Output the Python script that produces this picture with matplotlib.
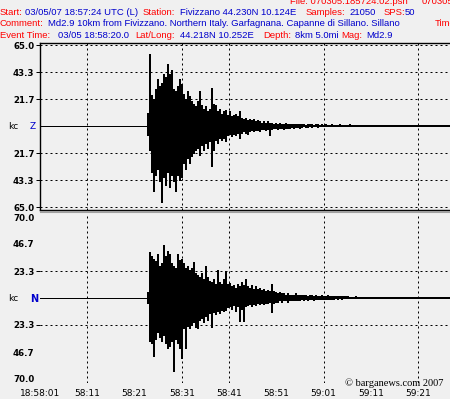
import numpy as np
import matplotlib
matplotlib.use('Agg')
import matplotlib.pyplot as plt
from matplotlib.lines import Line2D

# --- data (amplitude in kc, columns every ~0.42 s) ---
onset = 22.86        # seconds after 18:58:01 when the shaking starts
col_step = 0.423     # seconds between columns

z_hi = [11, 58, 25, 22, 30, 38, 32, 35, 42, 40, 50, 42, 45, 30, 28, 32, 38, 34, 26, 22,
        28, 24, 20, 18, 16, 20, 28, 17, 14, 16, 12, 14, 31, 18, 17, 12, 14, 10, 12, 13,
        9, 12, 8, 9, 10, 8, 12, 7, 6, 7, 5, 6, 5, 6, 4, 5, 4, 3, 4, 3,
        4, 3, 3, 2, 3, 2, 3, 2, 2, 3, 2, 2,
        2, 1.5, 2, 1.5, 1.5, 2, 1.5, 1, 1.5, 2, 1.5, 1, 1.5, 1.5, 1, 1.5, 1, 1.5, 1, 1,
        1.5, 1, 1, 1, 1.5, 1, 1, 1, 1, 1.5, 1, 1, 1, 0.8, 1, 1, 0.8, 1, 1, 0.8,
        1, 0.8, 0.8, 1, 0.8, 0.8, 1, 0.8, 0.8, 0.8, 1, 0.8, 0.8, 0.8, 1, 0.8, 0.8, 0.8, 0.8, 1,
        0.8, 0.8, 0.8, 0.8, 0.8, 1, 0.8, 0.8, 0.8, 0.8, 0.8, 0.8, 0.8, 0.8, 0.8, 0.8, 0.8, 0.8, 0.8, 0.8]
z_lo = [-8, -20, -38, -53, -40, -35, -45, -62, -42, -48, -38, -50, -40, -45, -53, -40, -44, -42, -30, -35,
        -26, -30, -25, -22, -20, -18, -24, -16, -20, -14, -18, -13, -33, -20, -12, -14, -10, -12, -10, -13,
        -8, -7, -9, -7, -8, -6, -10, -6, -5, -6, -7, -5, -4, -5, -4, -4, -5, -3, -3, -4,
        -3, -8, -3, -2, -2, -3, -2, -2, -3, -2, -2, -2,
        -1.5, -2, -1.5, -1.5, -2, -1.5, -1, -1.5, -1.5, -1, -1.5, -1, -1, -1.5, -1, -1, -1, -1, -1, -1,
        -0.8, -1, -0.8, -0.8, -1, -0.8, -0.8, -0.6, -0.8, -0.6, -0.6, -0.8, -0.6, -0.6, -0.6, -0.6, -0.5, -0.6, -0.5, -0.5,
        -0.5, -0.5, -0.5, -0.6, -0.5, -0.5, -0.5, -0.4, -0.5, -0.5, -0.4, -0.5, -0.4, -0.4, -0.5, -0.4, -0.4, -0.4, -0.4, -0.4,
        -0.4, -0.4, -0.4, -0.4, -0.4, -0.4, -0.4, -0.4, -0.4, -0.4, -0.4, -0.4, -0.4, -0.4, -0.4, -0.4, -0.4, -0.4, -0.4, -0.4]

n_hi = [5, 40, 36, 34, 32, 38, 28, 30, 46, 36, 41, 38, 30, 28, 26, 38, 33, 34, 30, 26,
        28, 24, 26, 31, 22, 20, 18, 22, 16, 28, 18, 15, 14, 16, 12, 24, 14, 12, 16, 23,
        12, 13, 10, 11, 9, 12, 10, 14, 11, 16, 10, 9, 11, 8, 10, 8, 9, 7, 8, 6,
        7, 6, 12, 6, 5, 4, 5, 4, 4, 3, 4, 3,
        3, 3, 4, 3, 2.5, 3, 2.5, 3, 2, 2.5, 3, 2, 2.5, 2, 2, 2.5, 2, 2, 3, 2,
        2, 1.5, 2, 1.5, 2, 1.5, 1.5, 2, 1.5, 1, 1, 1, 1.5, 1, 1, 1, 1, 1, 1, 1,
        0.8, 0.8, 1, 0.8, 0.8, 0.8, 1, 0.8, 0.8, 0.8, 0.8, 0.8, 1, 0.8, 0.8, 0.8, 0.8, 0.8, 0.8, 0.8,
        0.8, 0.8, 0.8, 0.8, 0.8, 0.8, 0.8, 0.8, 0.8, 0.8, 0.8, 0.8, 0.8, 0.8, 0.8, 0.8, 0.8, 0.8, 0.8, 0.8]
n_lo = [-5, -38, -40, -51, -36, -30, -35, -38, -33, -40, -44, -42, -38, -64, -36, -40, -44, -53, -27, -44,
        -25, -27, -24, -22, -26, -27, -20, -18, -22, -16, -20, -14, -26, -13, -15, -12, -14, -11, -12, -11,
        -9, -8, -10, -7, -12, -8, -21, -10, -21, -8, -7, -6, -8, -6, -7, -5, -6, -5, -6, -5,
        -5, -4, -13, -5, -4, -4, -3, -4, -3, -3, -4, -3,
        -3, -2.5, -3, -2.5, -3, -2, -2.5, -2, -2.5, -2, -2, -2.5, -2, -1.5, -2, -1.5, -2, -1.5, -1.5, -2,
        -1.5, -1.5, -1, -1.5, -1, -1.5, -1, -1, -1, -1, -0.8, -0.8, -0.8, -0.8, -0.8, -0.8, -0.8, -0.8, -0.8, -0.8,
        -0.5, -0.5, -0.5, -0.5, -0.5, -0.5, -0.5, -0.5, -0.5, -0.5, -0.5, -0.5, -0.5, -0.5, -0.5, -0.5, -0.5, -0.5, -0.5, -0.5,
        -0.5, -0.5, -0.5, -0.5, -0.5, -0.5, -0.5, -0.5, -0.5, -0.5, -0.5, -0.5, -0.5, -0.5, -0.5, -0.5, -0.5, -0.5, -0.5, -0.5]

x_ticks = [0, 10, 20, 30, 40, 50, 60, 70, 80]
x_labels = ['18:58:01', '58:11', '58:21', '58:31', '58:41', '58:51', '59:01', '59:11', '59:21']
x_grid = [10, 30, 40, 60, 80]
z_ticks = [65, 43.3, 21.7, -21.7, -43.3, -65]
z_labels = ['65.0', '43.3', '21.7', '21.7', '43.3', '65.0']
n_ticks = [23.3, -23.3]
n_minor = [70, 46.7, -46.7, -70]
n_labels = ['23.3', '23.3']
n_minor_labels = ['70.0', '46.7', '46.7', '70.0']

RED = '#ff0000'
BLUE = '#0000cc'
BG = '#f0f0f0'
W, H = 450, 399


def fx(px):
    return px / W


def fy(py):
    return 1 - py / H


def draw_trace(ax, hi, lo):
    t = onset + col_step * np.arange(len(hi))
    ax.plot([0, onset], [0, 0], color='black', lw=0.72, zorder=3)
    ax.vlines(t, lo, hi, color='black', lw=1.44, antialiased=False, zorder=3)


fig = plt.figure(figsize=(4.5, 3.99), dpi=100, facecolor=BG)

dot = (0, (2, 3))
px = 0.72  # one pixel in points

ax_z = fig.add_axes([fx(40), fy(209.5), fx(450) - fx(40), fy(43) - fy(209.5)])
ax_n = fig.add_axes([fx(40), fy(383), fx(450) - fx(40), fy(213) - fy(383)])

for ax in (ax_z, ax_n):
    ax.set_facecolor('none')
    ax.set_xlim(0, 86.77)
    for t in x_grid:
        ax.axvline(t, color='black', lw=px, ls=dot, zorder=1)

# top panel (Z)
ax_z.set_ylim(-67, 67)
for v in z_ticks:
    ax_z.axhline(v, color='black', lw=px, ls=dot, zorder=1)
ax_z.spines['right'].set_visible(False)
for s in ('top', 'left', 'bottom'):
    ax_z.spines[s].set_linewidth(1.0)
ax_z.set_xticks([])
ax_z.set_yticks(z_ticks, labels=z_labels)
ax_z.tick_params(axis='y', length=3, width=px, pad=1, labelsize=6.2)
for lab in ax_z.get_yticklabels():
    lab.set_fontweight('bold')
draw_trace(ax_z, z_hi, z_lo)

# bottom panel (N)
ax_n.set_ylim(-73.5, 73.5)
for v in n_ticks:
    ax_n.axhline(v, color='black', lw=px, ls=dot, zorder=1)
for s in ax_n.spines.values():
    s.set_visible(False)
ax_n.set_yticks(n_ticks, labels=n_labels)
ax_n.set_yticks(n_minor, labels=n_minor_labels, minor=True)
ax_n.tick_params(axis='y', which='major', length=3, width=px, pad=1, labelsize=6.2)
ax_n.tick_params(axis='y', which='minor', length=0, pad=4, labelsize=6.2)
for lab in ax_n.get_yticklabels() + ax_n.get_yticklabels(minor=True):
    lab.set_fontweight('bold')
ax_n.set_xticks(x_ticks, labels=x_labels)
ax_n.tick_params(axis='x', length=0, pad=4.5, labelsize=6.5)
draw_trace(ax_n, n_hi, n_lo)

# separator under the top panel
fig.add_artist(Line2D([fx(41), 1], [fy(211.8), fy(211.8)], color='#a0a0a0', lw=1.5))

# channel labels
fig.text(fx(8), fy(126.5), 'kc', fontsize=6.5, va='center')
fig.text(fx(30), fy(126.5), 'Z', fontsize=6.5, color=BLUE, va='center')
fig.text(fx(8), fy(298.5), 'kc', fontsize=6.5, va='center')
fig.text(fx(30), fy(298.5), 'N', fontsize=7, color=BLUE, fontweight='bold', va='center')

# header lines: (baseline y, [(x, text, colour), ...])
header = [
    (3.5, [(290, 'File: 070305.185724.02.psn', RED), (422, '070305.185724', RED)]),
    (15, [(0, 'Start:', RED), (25, '03/05/07 18:57:24 UTC (L)', BLUE), (143, 'Station:', RED),
          (180, 'Fivizzano 44.230N 10.124E', BLUE), (306, 'Samples:', RED), (349, '21050', BLUE),
          (384, 'SPS:', RED), (405, '50', BLUE)]),
    (26.5, [(0, 'Comment:', RED),
            (48, 'Md2.9 10km from Fivizzano. Northern Italy. Garfagnana. Capanne di Sillano. Sillano', BLUE),
            (435, 'Time', RED)]),
    (37.5, [(0, 'Event Time:', RED), (58, '03/05 18:58:20.0', BLUE), (135, 'Lat/Long:', RED),
            (180, '44.218N 10.252E', BLUE), (263, 'Depth:', RED), (295, '8km 5.0mi', BLUE),
            (341, 'Mag:', RED), (366, 'Md2.9', BLUE)]),
]
for base, parts in header:
    for x, txt, col in parts:
        fig.text(fx(x), fy(base), txt, color=col, fontsize=6.8, family='Liberation Sans',
                 va='baseline', ha='left')

fig.text(fx(443), fy(386.5), '\u00a9 barganews.com 2007', fontsize=7.5,
         family='Liberation Serif', ha='right', va='baseline')

fig.savefig('out.png', dpi=100, facecolor=BG)
